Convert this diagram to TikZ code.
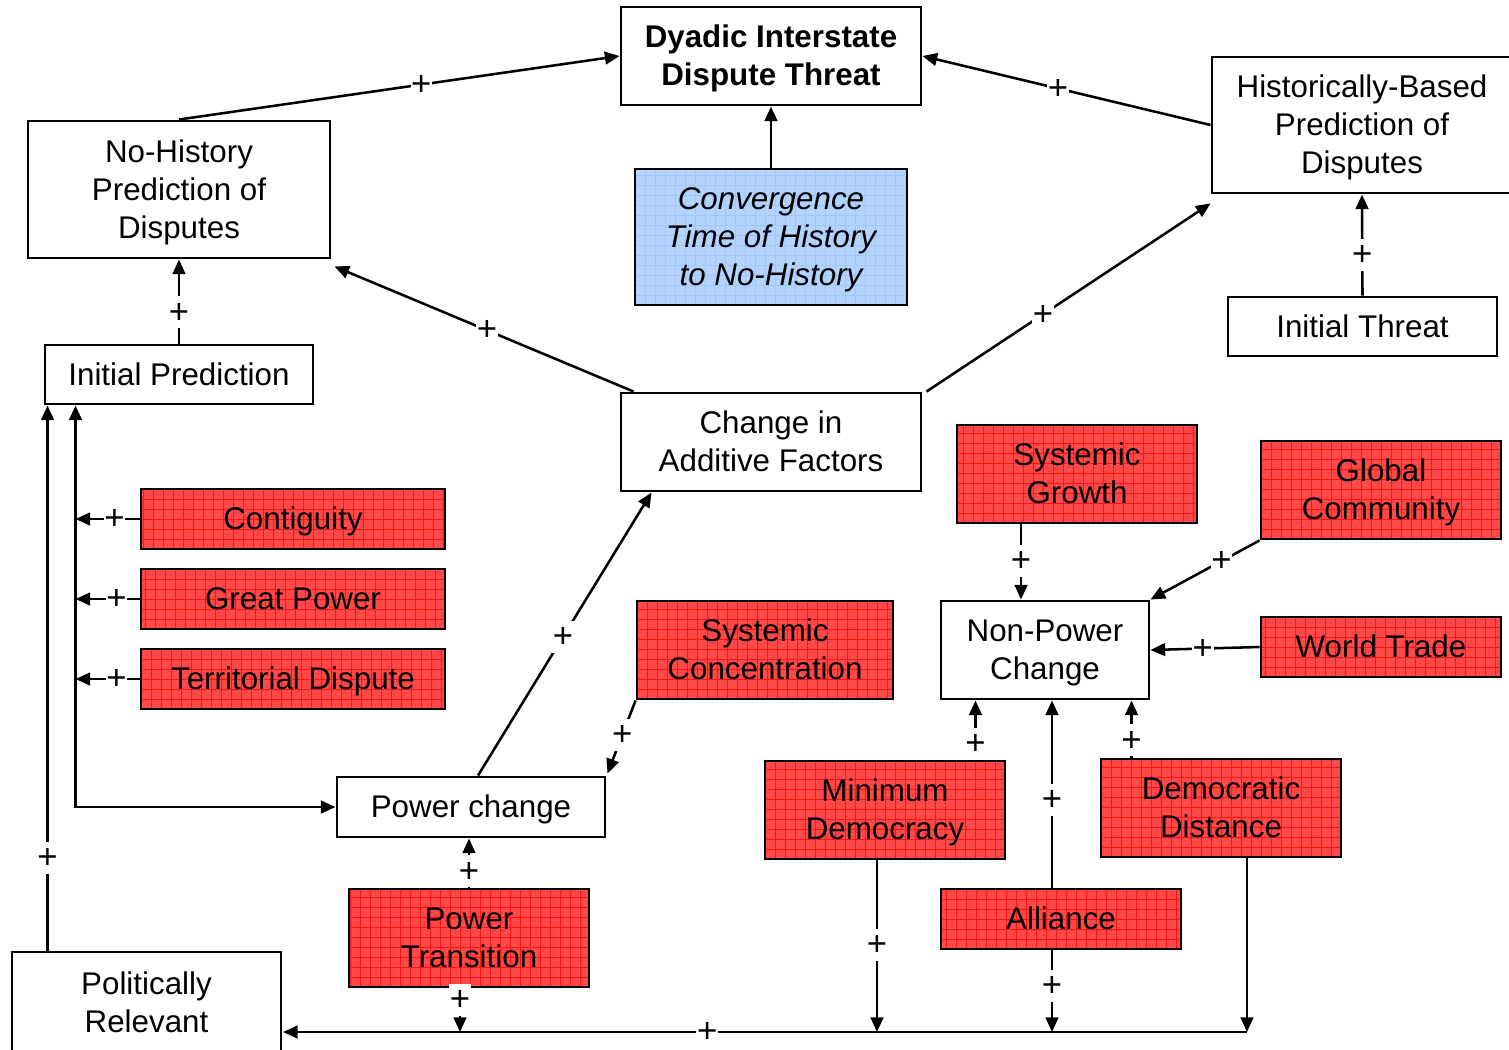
\documentclass[tikz,border=0pt]{standalone}
\usepackage{fontspec}
\setmainfont{Liberation Sans}
\usetikzlibrary{arrows.meta,calc}
\definecolor{boxred}{RGB}{255,72,72}
\definecolor{gridred}{RGB}{255,20,20}
\definecolor{boxblue}{RGB}{180,212,255}
\definecolor{gridblue}{RGB}{158,198,255}
\newcommand\mainfnt{\fontsize{23.5}{28.5}\selectfont}
\newcommand\plusfnt{\fontsize{26}{30}\selectfont}
\begin{document}
\begin{tikzpicture}[x=0.75pt,y=-0.75pt,
  box/.style={draw,line width=2.2pt,fill=white,rectangle,align=center,
    inner sep=0pt,text depth=1pt,font=\mainfnt},
  redbox/.style={box,fill=boxred,path picture={
    \draw[gridred,line width=0.7pt,step=7.5pt]
      (path picture bounding box.south west) grid (path picture bounding box.north east);}},
  bluebox/.style={box,fill=boxblue,path picture={
    \draw[gridblue,line width=0.7pt,step=7.5pt]
      (path picture bounding box.south west) grid (path picture bounding box.north east);}},
  tip/.tip={Triangle[length=11pt,width=9.5pt]},
  arr/.style={line width=1.9pt,-tip},
  plus/.style={fill=white,inner xsep=0.5pt,inner ysep=1pt,text height=19pt,text depth=3pt,
    font=\plusfnt},
]
\useasboundingbox (0,0) rectangle (1509,1049);

% ---- boxes ----
\node[box,minimum width=225pt,minimum height=73.5pt,font=\mainfnt\bfseries] (dyadic) at (771,56)
  {Dyadic Interstate\\Dispute Threat};
\node[box,minimum width=226.5pt,minimum height=102.75pt] (nohist) at (179,189.5)
  {No-History\\Prediction of\\Disputes};
\node[bluebox,minimum width=204pt,minimum height=102pt,font=\mainfnt\itshape] (conv) at (771,237)
  {Convergence\\Time of History\\to No-History};
\node[box,minimum width=225pt,minimum height=102pt] (hist) at (1362,125)
  {Historically-Based\\Prediction of\\Disputes};
\node[box,minimum width=201.75pt,minimum height=44.25pt] (initthreat) at (1362.5,326.5)
  {Initial Threat};
\node[box,minimum width=201pt,minimum height=44.25pt] (initpred) at (179,374.5)
  {Initial Prediction};
\node[box,minimum width=225pt,minimum height=73.5pt] (change) at (771,442)
  {Change in\\Additive Factors};
\node[redbox,minimum width=180pt,minimum height=73.5pt] (sysgrowth) at (1077,474)
  {Systemic\\Growth};
\node[redbox,minimum width=180pt,minimum height=73.5pt] (globcom) at (1381,490)
  {Global\\Community};
\node[redbox,minimum width=228pt,minimum height=45pt] (contig) at (293,519) {Contiguity};
\node[redbox,minimum width=228pt,minimum height=45pt] (greatpow) at (293,599) {Great Power};
\node[redbox,minimum width=228pt,minimum height=45pt] (territ) at (293,679) {Territorial Dispute};
\node[redbox,minimum width=192pt,minimum height=73.5pt] (sysconc) at (765,650)
  {Systemic\\Concentration};
\node[box,minimum width=156pt,minimum height=73.5pt] (npc) at (1045,650)
  {Non-Power\\Change};
\node[redbox,minimum width=180pt,minimum height=45pt] (wtrade) at (1381,647) {World Trade};
\node[box,minimum width=201pt,minimum height=45pt] (power) at (471,807) {Power change};
\node[redbox,minimum width=180pt,minimum height=73.5pt] (mindem) at (885,810)
  {Minimum\\Democracy};
\node[redbox,minimum width=180pt,minimum height=73.5pt] (demdist) at (1221,808)
  {Democratic\\Distance};
\node[redbox,minimum width=180pt,minimum height=45pt] (alliance) at (1061,919) {Alliance};
\node[redbox,minimum width=180pt,minimum height=73.5pt] (ptrans) at (469,938)
  {Power\\Transition};
\node[box,minimum width=201.75pt,minimum height=76.5pt] (polrel) at (146.5,1003)
  {Politically\\Relevant};

% ---- bus and connector end points ----
\coordinate (busR) at (1247,1032);
\coordinate (busL) at (283,1032);
\coordinate (lbus) at ($(initpred.south west)+(32,0)$);
\coordinate (ptB) at ($(ptrans.south)+(-9,0)$);
\coordinate (mdB) at ($(mindem.south)+(-8,0)$);
\coordinate (alB) at ($(alliance.south)+(-9,0)$);
\coordinate (alT) at ($(alliance.north)+(-9,0)$);
\coordinate (ddB) at ($(demdist.south)+(26,0)$);
\coordinate (mdT) at ($(mindem.north east)+(-31,0)$);
\coordinate (ddT) at ($(demdist.north west)+(32,0)$);
\coordinate (sgB) at ($(sysgrowth.south)+(-56,0)$);
\coordinate (prT) at ($(polrel.north west)+(37,0)$);

% ---- connectors into the dispute threat ----
\draw[arr] (nohist.north) -- node[plus,pos=0.55]{+} (dyadic.west);
\draw[arr] (hist.west) -- node[plus,pos=0.53]{+} (dyadic.east);
\draw[arr] (conv.north) -- (dyadic.south);
\draw[arr] (initpred.north) -- node[plus,pos=0.37]{+} (nohist.south);
\draw[arr] ($(change.north west)+(14,0)$) -- node[plus,pos=0.49]{+} ($(nohist.south east)+(3,7)$);
\draw[arr] ($(change.north east)+(4,0)$) -- node[plus,pos=0.41]{+} ($(hist.south west)+(0,9)$);
\draw[arr] (initthreat.north) -- node[plus,pos=0.4]{+} (hist.south);

% ---- power side ----
\draw[arr] ($(power.north)+(7,0)$) -- node[plus,pos=0.49]{+} ($(change.south west)+(32,0)$);
\draw[arr] (sysconc.south west) -- node[plus,pos=0.47]{+} ($(power.north east)+(1,-2)$);
\draw[arr] (ptrans.north) -- node[plus,pos=0.33]{+} (ptrans.north |- power.south);

% ---- left bus ----
\draw[line width=1.9pt,tip-tip] (lbus) |- (power.west);
\draw[arr] (contig.west) -- node[plus,pos=0.39]{+} (contig.west -| lbus);
\draw[arr] (greatpow.west) -- node[plus,pos=0.36]{+} (greatpow.west -| lbus);
\draw[arr] (territ.west) -- node[plus,pos=0.36]{+} (territ.west -| lbus);
\draw[arr] (prT) -- node[plus,pos=0.17]{+} ($(initpred.south west)+(4,0)$);

% ---- bottom bus ----
\draw[arr] (busR) -- node[plus,pos=0.56]{+} (busL);
\draw[arr] (ptB) -- node[plus,pos=0.27]{+} (ptB |- busR);
\draw[arr] (mdB) -- node[plus,pos=0.49]{+} (mdB |- busR);
\draw[arr] (alB) -- node[plus,pos=0.43]{+} (alB |- busR);
\draw[arr] (ddB) -- (busR);

% ---- non-power change ----
\draw[arr] (alT) -- node[plus,pos=0.47]{+} (alT |- npc.south);
\draw[arr] (mdT) -- node[plus,pos=0.26]{+} (mdT |- npc.south);
\draw[arr] (ddT) -- node[plus,pos=0.3]{+} (ddT |- npc.south);
\draw[arr] (sgB) -- node[plus,pos=0.49]{+} (sgB |- npc.north);
\draw[arr] (globcom.south west) -- node[plus,pos=0.35]{+} (npc.north east);
\draw[arr] (wtrade.west) -- node[plus,pos=0.52]{+} (npc.east);
\end{tikzpicture}
\end{document}
